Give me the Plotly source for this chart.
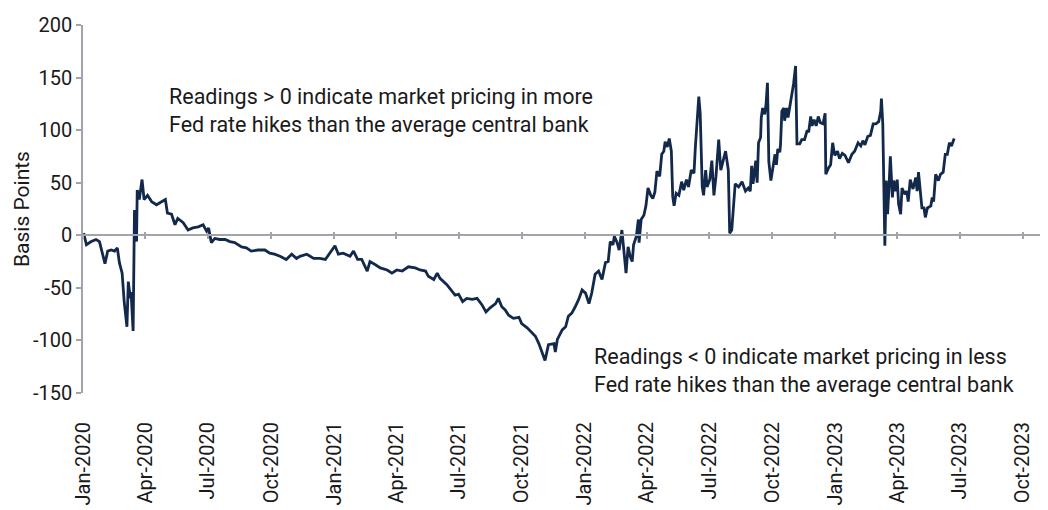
import pandas as pd
import plotly.graph_objects as go

# Days since 2020-01-01 and spread in basis points
day_offset = [
    1, 5, 12, 19, 24, 26, 32, 36, 41, 46, 50, 53, 57, 60, 64, 66, 69, 70, 73, 75,
    78, 79, 82, 86, 89, 94, 100, 107, 114, 120, 123, 129, 134, 138, 146, 153, 160, 168, 175, 180,
    183, 187, 192, 199, 207, 214, 221, 231, 238, 245, 255, 265, 272, 279, 287, 296, 304, 311,
    316, 326, 336, 345, 353, 360, 367, 372, 379, 389, 394, 400, 406, 414, 418, 426, 433, 443,
    450, 457, 465, 474, 484, 491, 499, 503, 511, 516, 520, 530, 537, 542, 547, 553, 559, 567,
    574, 581, 587, 593, 601, 605, 610, 615, 620, 627, 635, 639, 647, 654, 659, 664, 669, 673,
    678, 686, 688, 691,
    698, 703, 707, 712, 717, 722, 727, 732, 737, 741, 746, 751, 756, 761, 765, 768, 772, 774,
    778, 781, 785, 788, 791, 794, 797, 800, 802, 806, 809, 810, 813, 817, 820, 823, 827, 830,
    833, 836, 840, 843, 846, 848, 851, 854, 857, 859, 861, 864, 868, 872, 875, 879, 882, 886,
    890, 892, 895, 897, 899, 902, 904, 907, 909, 913, 916, 919, 922, 926, 929, 932, 936, 940,
    942, 945, 948, 950, 955, 960, 965,
    969, 972, 974, 976, 980, 982, 984, 987, 988, 990, 993, 995, 997, 998, 999, 1002, 1005, 1008,
    1010, 1012, 1015, 1016, 1018, 1021, 1022, 1025, 1027, 1031, 1033, 1035, 1038, 1039, 1040,
    1044, 1047, 1051, 1055, 1057, 1060, 1062, 1065, 1068, 1071, 1074, 1078, 1081, 1082, 1086,
    1089, 1092, 1095, 1099, 1102, 1106, 1110, 1115, 1120, 1124, 1129, 1133, 1136, 1139, 1143,
    1147, 1151, 1155, 1159, 1162, 1163, 1165, 1167, 1168, 1170, 1172, 1174, 1176, 1179, 1181,
    1184, 1186, 1188, 1191, 1193, 1197, 1200, 1202, 1205, 1209, 1213, 1215, 1217, 1220, 1222,
    1225, 1227, 1230, 1235, 1237, 1239, 1242, 1246, 1249, 1253, 1256, 1259, 1262, 1265, 1269,
]
bps = [
    2, -9, -6, -4, -6, -11, -27, -15, -14, -15, -12, -26, -36, -63, -87, -44, -60, -54, -91, 24,
    -6, 43, 34, 53, 34, 38, 32, 29, 32, 34, 21, 20, 10, 16, 12, 5, 7, 8, 10, 4,
    7, -7, -3, -4, -4, -6, -7, -11, -12, -15, -14, -14, -17, -18, -20, -23, -18, -22,
    -20, -18, -22, -22, -23, -17, -10, -18, -17, -20, -15, -23, -23, -34, -25, -28, -31, -33,
    -36, -33, -34, -30, -31, -33, -34, -39, -42, -36, -41, -47, -53, -57, -56, -63, -60, -61,
    -60, -66, -73, -69, -65, -60, -68, -71, -76, -79, -78, -84, -88, -93, -96, -103, -112, -119,
    -104, -103, -111, -99,
    -90, -87, -77, -74, -68, -61, -52, -55, -65, -55, -37, -34, -42, -26, -25, -6, -9, -1,
    -7, -14, 5, -14, -36, -11, -20, -25, -9, -1, 15, -7, 15, 19, 28, 45, 38, 35,
    41, 61, 56, 77, 80, 89, 84, 92, 80, 37, 28, 40, 38, 51, 43, 53, 46, 62,
    59, 84, 116, 132, 116, 46, 38, 62, 46, 53, 71, 38, 56, 91, 62, 69, 80, 62,
    2, 5, 28, 49, 46, 51, 42,
    45, 42, 66, 49, 71, 50, 88, 93, 112, 121, 115, 125, 145, 109, 70, 52, 64, 77,
    67, 82, 79, 86, 118, 121, 109, 121, 112, 128, 136, 144, 161, 131, 87,
    87, 91, 91, 100, 98, 113, 104, 110, 104, 113, 107, 106, 116, 58, 64,
    67, 88, 76, 80, 73, 78, 76, 69, 77, 80, 88, 85, 90, 86, 94,
    95, 106, 106, 108, 118, 130, 106, 39, -10, 52, 20, 45, 75, 36, 52,
    42, 53, 30, 20, 45, 39, 42, 32, 53, 44, 55, 42, 60, 34, 26,
    26, 17, 26, 28, 36, 32, 58, 52, 58, 60, 77, 77, 88, 85, 92,
]

tick_dates = ["2020-01-01", "2020-04-01", "2020-07-01", "2020-10-01",
              "2021-01-01", "2021-04-01", "2021-07-01", "2021-10-01",
              "2022-01-01", "2022-04-01", "2022-07-01", "2022-10-01",
              "2023-01-01", "2023-04-01", "2023-07-01", "2023-10-01"]
tick_labels = ["Jan-2020", "Apr-2020", "Jul-2020", "Oct-2020",
               "Jan-2021", "Apr-2021", "Jul-2021", "Oct-2021",
               "Jan-2022", "Apr-2022", "Jul-2022", "Oct-2022",
               "Jan-2023", "Apr-2023", "Jul-2023", "Oct-2023"]

y_ticks = [-150, -100, -50, 0, 50, 100, 150, 200]
y_tick_labels = ["-150", "-100", "-50", "0", "50", "100", "150", "200"]
y_title = "Basis Points"

note_above = "Readings > 0 indicate market pricing in more<br>Fed rate hikes than the average central bank"
note_below = "Readings < 0 indicate market pricing in less<br>Fed rate hikes than the average central bank"

dates = pd.Timestamp("2020-01-01") + pd.to_timedelta(day_offset, unit="D")

FONT = "Roboto"
TXT = "#1a1a1a"
AX = "#a3a3ab"
NAVY = "#13294b"
x_range = ["2020-01-01", "2023-10-26"]
y_range = [-150, 200]
zero_pos = (0 - y_range[0]) / (y_range[1] - y_range[0])

fig = go.Figure()
# dummy traces so the overlay axes are built
fig.add_trace(go.Scatter(x=[dates[0]], y=[None], xaxis="x", yaxis="y",
                         mode="lines", showlegend=False, hoverinfo="skip"))
fig.add_trace(go.Scatter(x=[dates[0]], y=[None], xaxis="x2", yaxis="y",
                         mode="lines", showlegend=False, hoverinfo="skip"))
fig.add_trace(go.Scatter(x=dates, y=bps, xaxis="x3", yaxis="y", mode="lines",
                         line=dict(color=NAVY, width=2.8), showlegend=False))

common = dict(type="date", range=x_range, tickvals=tick_dates, showgrid=False,
              zeroline=False, automargin=False)

fig.update_layout(
    width=1048, height=510,
    margin=dict(l=83, r=8, t=25, b=117),
    paper_bgcolor="white", plot_bgcolor="white",
    font=dict(family=FONT, size=20, color=TXT),
    xaxis=dict(**common, ticktext=tick_labels, tickangle=-90,
               showline=False, ticks="outside", ticklen=20, tickcolor="rgba(0,0,0,0)",
               tickfont=dict(family=FONT, size=20, color=TXT)),
    xaxis2=dict(**common, overlaying="x", anchor="free", position=zero_pos,
                showticklabels=False, showline=True, linecolor=AX, linewidth=1.5,
                ticks="outside", ticklen=3, tickcolor=AX, tickwidth=1.5),
    xaxis3=dict(**common, overlaying="x", anchor="free", position=zero_pos,
                showticklabels=False, showline=False, layer="below traces",
                ticks="inside", ticklen=3, tickcolor=AX, tickwidth=1.5),
    yaxis=dict(range=y_range, tickvals=y_ticks, ticktext=y_tick_labels,
               showgrid=False, zeroline=False, automargin=False,
               showline=True, linecolor=AX, linewidth=1.5, ticks="outside",
               ticklen=5, tickcolor=AX, tickwidth=1.5,
               tickfont=dict(family=FONT, size=20, color=TXT)),
    annotations=[
        dict(text=y_title, xref="paper", yref="paper", x=-0.0637, y=0.5,
             xanchor="center", yanchor="middle", textangle=-90, showarrow=False,
             font=dict(family=FONT, size=21, color=TXT)),
        dict(text=note_above, xref="paper", yref="paper", x=0.0878, y=0.845,
             xanchor="left", yanchor="top", align="left", showarrow=False,
             font=dict(family=FONT, size=21.5, color=TXT)),
        dict(text=note_below, xref="paper", yref="paper", x=0.532, y=0.138,
             xanchor="left", yanchor="top", align="left", showarrow=False,
             font=dict(family=FONT, size=21.5, color=TXT)),
    ],
)

fig.write_html("out.html", config={"displayModeBar": False},
               post_script="document.body.style.margin='0';document.body.style.overflow='hidden';")
